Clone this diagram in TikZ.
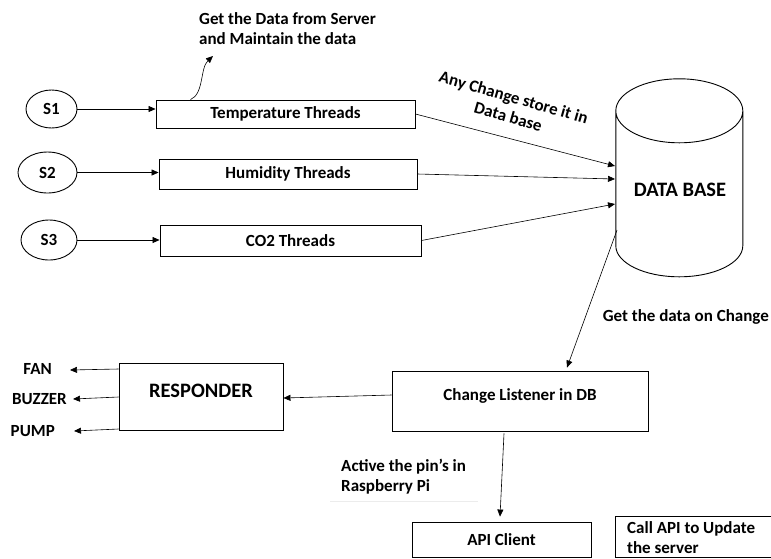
\documentclass[tikz,border=0pt]{standalone}
\usepackage{fontspec}
\setmainfont{Carlito}
\usetikzlibrary{arrows.meta,calc,shapes.geometric}
\begin{document}
\begin{tikzpicture}[x=1pt,y=-1pt,
  font=\bfseries\fontsize{17}{20}\selectfont,
  box/.style={draw, line width=0.9pt, inner sep=0pt},
  sensor/.style={draw, ellipse, line width=0.9pt, inner sep=0pt},
  conn/.style={draw, line width=0.6pt, -{Triangle[length=7pt,width=6pt]}},
  lbl/.style={inner sep=0pt},
  bigtext/.style={inner sep=0pt, font=\bfseries\fontsize{20.5}{24}\selectfont}]
\useasboundingbox (0,0) rectangle (771,558);

% sensors
\node[sensor, minimum width=51, minimum height=38] (s1) at (51.5,109) {S1};
\node[sensor, minimum width=59, minimum height=41] (s2) at (47.5,172.5) {S2};
\node[sensor, minimum width=56, minimum height=40] (s3) at (49,240) {S3};

% thread boxes
\node[box, minimum width=259, minimum height=28] (temp) at (285.5,114) {Temperature Threads};
\node[box, minimum width=258, minimum height=30] (hum) at (288,174) {Humidity Threads};
\node[box, minimum width=261, minimum height=31] (co2) at (290.5,240.5) {CO2 Threads};

\draw[conn] (s1.east) -- (s1.east -| temp.west);
\draw[conn] (s2.east) -- (s2.east -| hum.west);
\draw[conn] (s3.east) -- (s3.east -| co2.west);

% note above
\node[lbl, align=left, anchor=north west] (getdata) at (199,12) {Get the Data from Server\\and Maintain the data};
\coordinate (gdtip) at (213,56);
\draw[conn] ($(temp.north west)+(35,0)$) .. controls (204,94) and (200,68) .. (gdtip);

% database cylinder
\node[inner sep=0pt, minimum width=127, minimum height=198] (db) at (679.5,179) {};
\node[bigtext] (dbtext) at (680,190) {DATA BASE};
\draw[line width=0.9pt]
  (db.north west) ++(0,31) coordinate (dbtl)
  (dbtl) arc[start angle=180, end angle=-180, x radius=63.5, y radius=-32]
  (dbtl) -- ++(0,135) coordinate (dbbl)
  arc[start angle=180, end angle=360, x radius=63.5, y radius=-31]
  -- ($(dbtl)+(127,0)$);

% arrows into database
\coordinate (dbin1) at (615,166);
\coordinate (dbin2) at (615,179);
\coordinate (dbin3) at (615,204);
\draw[conn] (temp.east) -- (dbin1);
\draw[conn] (hum.east) -- (dbin2);
\draw[conn] (co2.east) -- (dbin3);
\node[lbl, align=center, rotate=-16] (anychange) at (511,107) {Any Change store it in\\Data base};

% change listener
\node[box, minimum width=256, minimum height=60] (listen) at (520,401) {};
\node[lbl] (listentext) at (520,396) {Change Listener in DB};
\coordinate (dbout) at (617,230);
\draw[conn] (dbout) -- ($(listen.north)+(47,-3)$);
\node[lbl, anchor=east] (getchange) at (769,317) {Get the data on Change};

% responder
\node[box, minimum width=164, minimum height=67] (resp) at (201,396.5) {};
\node[bigtext] (resptext) at (201,391) {RESPONDER};
\draw[conn] ($(listen.west)+(0,-6)$) -- ($(resp.east)+(0,1.5)$);

% outputs
\node[lbl, anchor=east] (fan) at (52,369) {FAN};
\node[lbl, anchor=east] (buzzer) at (67,399) {BUZZER};
\node[lbl, anchor=east] (pump) at (55,431) {PUMP};
\draw[conn] ($(resp.west)+(0,-27.5)$) -- ($(fan.east)+(18,1)$);
\draw[conn] ($(resp.west)+(0,0.5)$) -- ($(buzzer.east)+(6,0)$);
\draw[conn] ($(resp.west)+(0,32.5)$) -- ($(pump.east)+(19,0)$);

% active pins
\node[lbl, align=left, anchor=west] (pins) at (341,476.5) {Active the pin’s in\\Raspberry Pi};
\draw[gray!15, line width=0.8pt] (330,501) -- (478,501);

% API client
\node[box, minimum width=179, minimum height=35.5] (api) at (501.5,539.75) {API Client};
\draw[conn] ($(listen.south)+(-16,2)$) -- ($(api.north)+(-1.5,-5)$);

% call API note
\node[inner sep=0pt, minimum width=155.5, minimum height=41.5, anchor=north west] (callbox) at (615.5,516) {};
\draw[line width=0.9pt] (callbox.north east) -- (callbox.north west) -- (callbox.south west) -- (callbox.south east) -- cycle;
\node[lbl, align=left, anchor=west] (calltext) at (627,538) {Call API to Update\\the server};
\end{tikzpicture}
\end{document}
